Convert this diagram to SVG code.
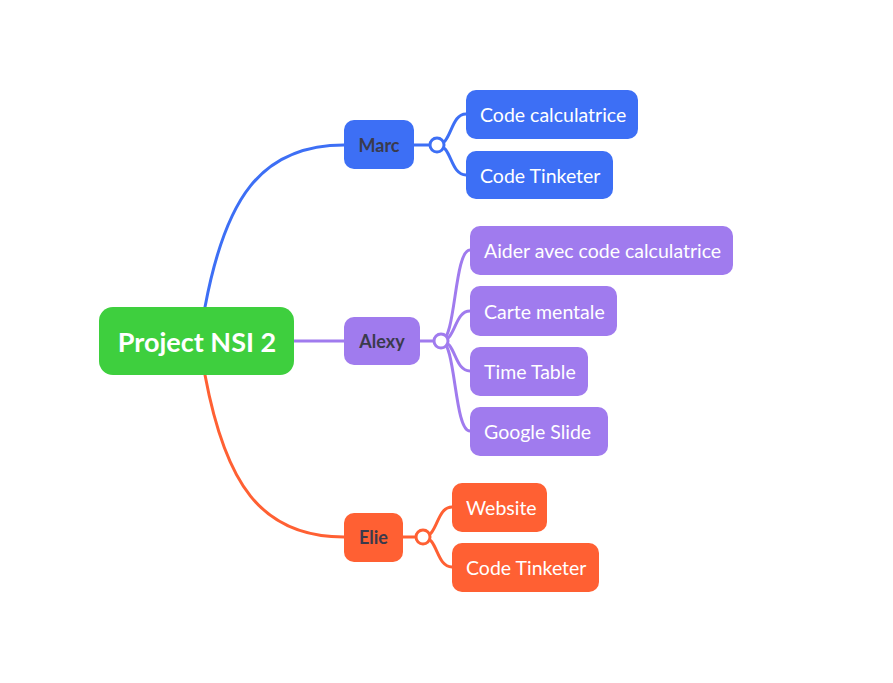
<svg xmlns="http://www.w3.org/2000/svg" width="893" height="683" viewBox="0 0 893 683">
<style>
.t{font-family:Lato,"Noto Sans",sans-serif;font-size:19.5px;fill:#fff;dominant-baseline:central}
.m{font-family:Lato,"Noto Sans",sans-serif;font-size:18px;font-weight:bold;fill:#3a3a4c;text-anchor:middle;dominant-baseline:central}
.c{fill:none;stroke-width:3;stroke-linecap:round}
.b{stroke:#3d6ff5}.p{stroke:#a07bee}.o{stroke:#ff6033}
</style>
<rect width="893" height="683" fill="#fff"/>
<g id="connectors">
<path class="c b" d="M205,307 C225,200 260,145 344,145"/>
<path class="c p" d="M294,341 L344,341"/>
<path class="c o" d="M205,375 C225,482 260,537 344,537"/>
<path class="c b" d="M414,145 L430,145"/>
<path class="c b" d="M437,145 C452,145 450,114 466,114"/>
<path class="c b" d="M437,145 C452,145 450,175 466,175"/>
<path class="c p" d="M420,341 L434,341"/>
<path class="c p" d="M441,341 C456,341 454,250 470,250"/>
<path class="c p" d="M441,341 C456,341 454,311 470,311"/>
<path class="c p" d="M441,341 C456,341 454,371 470,371"/>
<path class="c p" d="M441,341 C456,341 454,431 470,431"/>
<path class="c o" d="M403,537 L416,537"/>
<path class="c o" d="M423,537 C438,537 436,507 452,507"/>
<path class="c o" d="M423,537 C438,537 436,567 452,567"/>
<circle cx="437" cy="145" r="7" fill="#fff" stroke="#3d6ff5" stroke-width="3"/>
<circle cx="441" cy="341" r="7" fill="#fff" stroke="#a07bee" stroke-width="3"/>
<circle cx="423" cy="537" r="7" fill="#fff" stroke="#ff6033" stroke-width="3"/>
</g>
<g id="root"><rect x="99" y="307" width="195" height="68" rx="14" fill="#3ecf3e"/><text x="197" y="341" font-family="Lato,'Noto Sans',sans-serif" font-size="27" font-weight="bold" fill="#fff" text-anchor="middle" dominant-baseline="central">Project NSI 2</text></g>
<g id="marc"><rect x="344" y="120" width="70" height="49" rx="10" fill="#3d6ff5"/><text class="m" x="379" y="145">Marc</text></g>
<g id="alexy"><rect x="344" y="317" width="76" height="48" rx="10" fill="#a07bee"/><text class="m" x="382" y="341">Alexy</text></g>
<g id="elie"><rect x="344" y="513" width="59" height="49" rx="10" fill="#ff6033"/><text class="m" x="373.5" y="537">Elie</text></g>
<g id="code-calc"><rect x="466" y="90" width="172" height="49" rx="10" fill="#3d6ff5"/><text class="t" x="480" y="114">Code calculatrice</text></g>
<g id="code-tink-m"><rect x="466" y="151" width="147" height="48" rx="10" fill="#3d6ff5"/><text class="t" x="480" y="175">Code Tinketer</text></g>
<g id="aider"><rect x="470" y="226" width="263" height="49" rx="10" fill="#a07bee"/><text class="t" x="484" y="250">Aider avec code calculatrice</text></g>
<g id="carte"><rect x="470" y="286" width="147" height="50" rx="10" fill="#a07bee"/><text class="t" x="484" y="311">Carte mentale</text></g>
<g id="time"><rect x="470" y="347" width="118" height="49" rx="10" fill="#a07bee"/><text class="t" x="484" y="371">Time Table</text></g>
<g id="google"><rect x="470" y="407" width="138" height="49" rx="10" fill="#a07bee"/><text class="t" x="484" y="431">Google Slide</text></g>
<g id="website"><rect x="452" y="483" width="95" height="49" rx="10" fill="#ff6033"/><text class="t" x="466" y="507">Website</text></g>
<g id="code-tink-e"><rect x="452" y="543" width="147" height="49" rx="10" fill="#ff6033"/><text class="t" x="466" y="567">Code Tinketer</text></g>
</svg>
